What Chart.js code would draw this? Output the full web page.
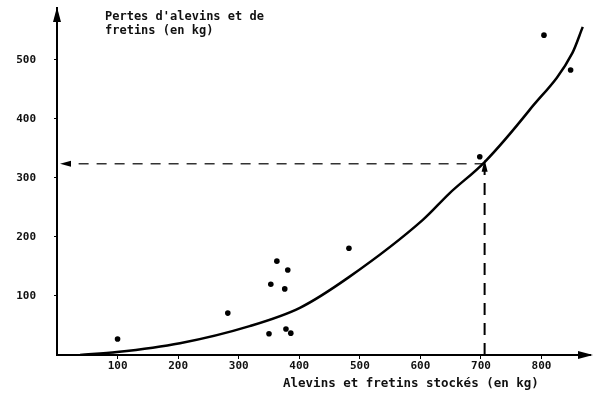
<!DOCTYPE html>
<html><head><meta charset="utf-8">
<script src="https://cdn.jsdelivr.net/npm/chart.js@4"></script>
<style>
html,body{margin:0;padding:0;background:#fff;}
#wrap{position:relative;width:600px;height:393px;overflow:hidden;}
canvas{position:absolute;left:0;top:0;}
.lbl{position:absolute;font-family:"DejaVu Sans Mono",monospace;font-weight:bold;color:#111;white-space:pre;}
</style></head><body>
<div id="wrap">
<canvas id="c" width="600" height="393"></canvas>
<div class="lbl" id="yt" style="left:105px;top:9px;font-size:12px;line-height:14px;">Pertes d'alevins et de
fretins (en kg)</div>
<div class="lbl" id="xt" style="left:283px;top:376px;font-size:12.5px;line-height:14px;">Alevins et fretins stockés (en kg)</div>
</div>
<script>
// Tick labels
const xTicks = [100, 200, 300, 400, 500, 600, 700, 800];
const yTicks = [100, 200, 300, 400, 500];
// Observed points (stocked kg, losses kg)
const obsX = [100, 282, 350, 353, 363, 376, 378, 381, 386, 482, 698, 804, 848];
const obsY = [27, 71, 36, 120, 159, 112, 44, 144, 37, 181, 336, 542, 483];
// Fitted curve
const fitX = [38, 99, 203, 318, 401, 482, 604, 648, 706, 780, 851, 868];
const fitY = [0, 5, 20, 49, 80, 132, 229, 274, 327, 415, 512, 556];
// Reading guide
const readX = 706;
const readY = 324;
const xMax = 880, yMax = 588;

const FONT = '"DejaVu Sans Mono", monospace';

const arrows = {
  id: 'arrows',
  afterDatasetsDraw(chart) {
    const ctx = chart.ctx, xs = chart.scales.x, ys = chart.scales.y, a = chart.chartArea;
    ctx.save();
    ctx.fillStyle = '#000';
    function tri(p1, p2, p3) {
      ctx.beginPath(); ctx.moveTo(p1[0], p1[1]); ctx.lineTo(p2[0], p2[1]); ctx.lineTo(p3[0], p3[1]); ctx.closePath(); ctx.fill();
    }
    // axis arrowheads
    const ox = xs.getPixelForValue(0), oy = ys.getPixelForValue(0);
    tri([ox, a.top - 1], [ox - 4, a.top + 14], [ox + 4, a.top + 14]);
    tri([a.right + 3, oy], [a.right - 12, oy - 4], [a.right - 12, oy + 4]);
    // guide arrowheads
    const gy = ys.getPixelForValue(readY), gx = xs.getPixelForValue(readX);
    const lx = xs.getPixelForValue(5);
    tri([lx, gy], [lx + 11, gy - 3], [lx + 11, gy + 3]);
    tri([gx, gy - 4], [gx - 3, gy + 8], [gx + 3, gy + 8]);
    ctx.restore();
  }
};

const tickFont = {family: FONT, size: 11, weight: 'bold'};

new Chart(document.getElementById('c'), {
  type: 'scatter',
  data: {
    datasets: [
      {
        type: 'line',
        data: fitX.map((x, i) => ({x: x, y: fitY[i]})),
        borderColor: '#000', borderWidth: 2.5, pointRadius: 0,
        tension: 0.4, cubicInterpolationMode: 'monotone', fill: false
      },
      {
        data: obsX.map((x, i) => ({x: x, y: obsY[i]})),
        pointRadius: 2.8, backgroundColor: '#000', borderWidth: 0
      },
      {
        type: 'line',
        data: [{x: readX, y: readY}, {x: 12, y: readY}],
        borderColor: '#333', borderWidth: 1.5, borderDash: [10, 8], pointRadius: 0, fill: false
      },
      {
        type: 'line',
        data: [{x: readX, y: 0}, {x: readX, y: readY - 6}],
        borderColor: '#000', borderWidth: 2, borderDash: [12, 8], pointRadius: 0, fill: false
      }
    ]
  },
  options: {
    responsive: false,
    animation: false,
    devicePixelRatio: 1,
    layout: {padding: {top: 8, right: 10, left: 0, bottom: 0}},
    plugins: {legend: {display: false}, tooltip: {enabled: false}},
    scales: {
      x: {
        type: 'linear', min: 0, max: xMax,
        afterBuildTicks: s => { s.ticks = xTicks.map(v => ({value: v})); },
        afterFit: s => { s.height = 38; s.paddingLeft = 0; s.paddingRight = 0; },
        grid: {drawOnChartArea: false, drawTicks: true, tickLength: 4, color: '#000', lineWidth: 1},
        border: {display: true, color: '#000', width: 2},
        ticks: {color: '#111', font: tickFont, padding: 1, maxRotation: 0, autoSkip: false}
      },
      y: {
        type: 'linear', min: 0, max: yMax,
        afterBuildTicks: s => { s.ticks = yTicks.map(v => ({value: v})); },
        afterFit: s => { s.width = 57; s.paddingTop = 0; s.paddingBottom = 0; },
        grid: {drawOnChartArea: false, drawTicks: true, tickLength: 3, color: '#000', lineWidth: 1},
        border: {display: true, color: '#000', width: 2},
        ticks: {color: '#111', font: tickFont, padding: 18, autoSkip: false}
      }
    }
  },
  plugins: [arrows]
});
</script>
</body></html>
